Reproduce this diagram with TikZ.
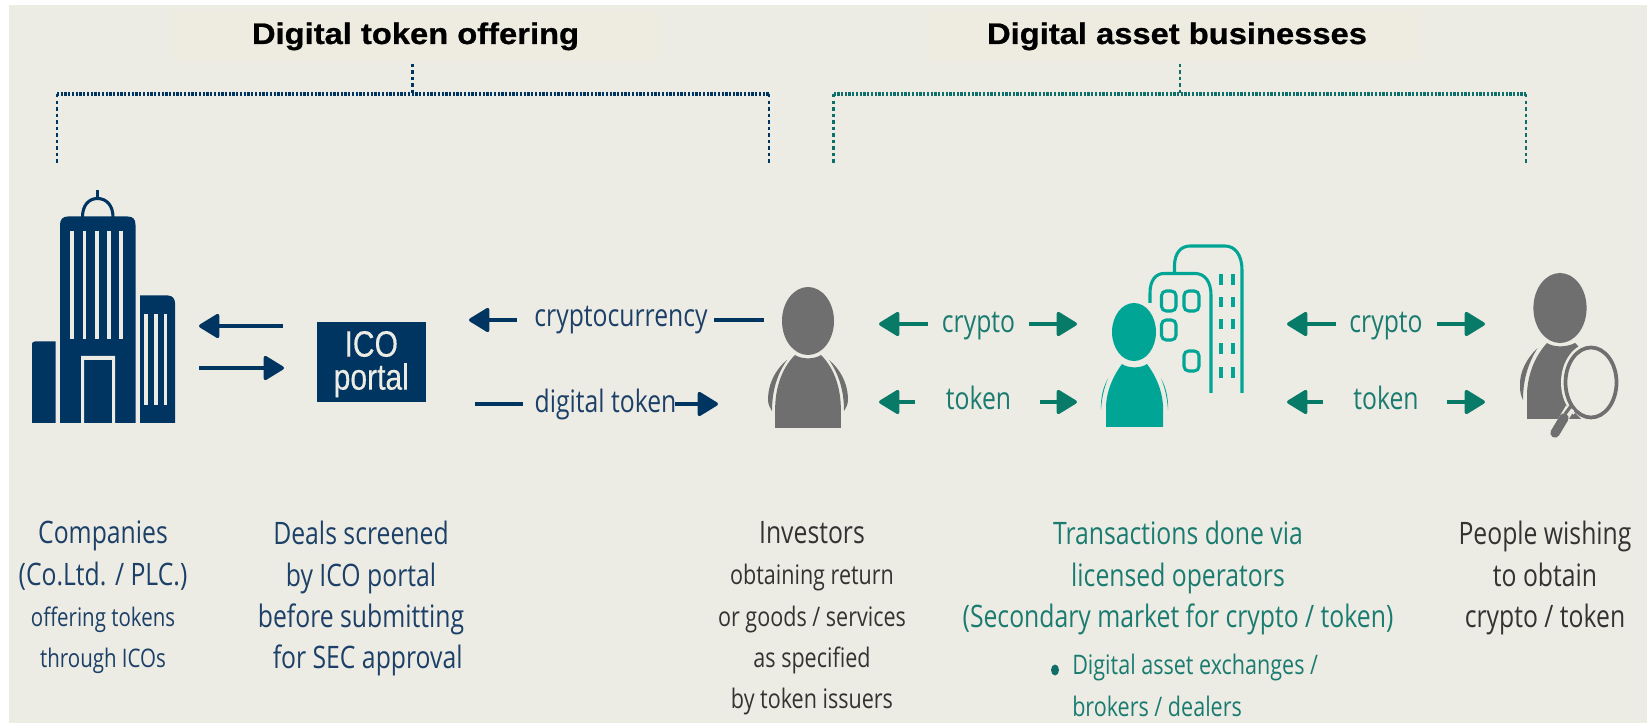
\documentclass[tikz,border=0pt]{standalone}
\usepackage{fontspec}
\usetikzlibrary{arrows.meta}
\setmainfont{Open Sans}[FakeStretch=0.8]
\newfontfamily\titlefont{Liberation Sans Bold}[FakeStretch=1.1,FakeBold=0.8]
\newfontfamily\icofont{Liberation Sans}[FakeStretch=0.82,FakeBold=0.3]
\definecolor{bg}{HTML}{EDECE4}
\definecolor{hdr}{HTML}{EEECE1}
\definecolor{navy}{HTML}{003461}
\definecolor{navytxt}{HTML}{1C4068}
\definecolor{tealdark}{HTML}{087A68}
\definecolor{tealtxt}{HTML}{1A7B70}
\definecolor{teal2}{HTML}{00A596}
\definecolor{teal3}{HTML}{0E6E6A}
\definecolor{greyfig}{HTML}{6F6F6F}
\definecolor{greytxt}{HTML}{333333}
\newcommand{\bigline}{\fontsize{23.2pt}{31pt}\selectfont}
\newcommand{\smallline}{\fontsize{20.2pt}{31pt}\selectfont}
\newcommand{\smallerline}{\fontsize{19.2pt}{31pt}\selectfont}
\tikzset{
  hdrbox/.style={fill=hdr,draw=none,inner sep=0pt,anchor=north west},
  title/.style={anchor=base,inner sep=0pt,text=black,font=\titlefont\fontsize{22.3pt}{24pt}\selectfont},
  arrowline/.style={line width=2.6pt,-{Triangle[length=16.5pt,width=19.5pt,round]}},
  plainline/.style={line width=2.6pt},
  navyarrow/.style={arrowline,draw=navy,fill=navy},
  greenarrow/.style={arrowline,draw=tealdark,fill=tealdark},
  lbl/.style={anchor=base,inner sep=0pt,font=\fontsize{23.2pt}{24pt}\selectfont},
  block/.style={anchor=north,inner sep=0pt,align=center,font=\bigline},
  icotext/.style={anchor=center,inner sep=0pt,align=center,text=bg,font=\icofont\fontsize{27.5pt}{24.75pt}\selectfont},
  dotted navy/.style={draw=navy,line width=2.4pt,dash pattern=on 1.7pt off 1.1pt},
  dotted navyv/.style={draw=navy,line width=2pt,dash pattern=on 2.6pt off 2.3pt},
  dotted teal/.style={draw=teal3,line width=2.4pt,dash pattern=on 1.7pt off 1.1pt},
  dotted tealv/.style={draw=teal3,line width=2pt,dash pattern=on 2.6pt off 2.3pt},
}
\begin{document}
\begin{tikzpicture}[x=0.75pt,y=-0.75pt]
\useasboundingbox (0,0) rectangle (1647,723);
\fill[white] (0,0) rectangle (1647,723);
\fill[bg] (9,5) rectangle (1647,723);

% headers
\node[hdrbox,minimum width=366pt,minimum height=37.5pt] (hdrA) at (172,10) {};
\node[hdrbox,minimum width=368pt,minimum height=37.5pt] (hdrB) at (929,10) {};
\node[title] (titleA) at (415.5,44) {Digital token offering};
\node[title] (titleB) at (1177,44) {Digital asset businesses};

% brackets
\coordinate (brAl) at (57,165); \coordinate (brAlt) at (57,94);
\coordinate (brAr) at (769,165); \coordinate (brArt) at (769,94);
\coordinate (brAm) at (412.5,94);
\draw[dotted navy] (brAlt) -- (brArt);
\draw[dotted navyv] (brAlt) -- (brAl);
\draw[dotted navyv] (brArt) -- (brAr);
\draw[dotted navyv,line width=1.6pt] (hdrA.south -| brAm) ++(0,3) -- (brAm);
\coordinate (brBl) at (833.5,165); \coordinate (brBlt) at (833.5,94);
\coordinate (brBr) at (1526,165); \coordinate (brBrt) at (1526,94);
\coordinate (brBm) at (1180,94);
\draw[dotted teal] (brBlt) -- (brBrt);
\draw[dotted tealv] (brBlt) -- (brBl);
\draw[dotted tealv] (brBrt) -- (brBr);
\draw[dotted tealv,line width=1pt] (hdrB.south -| brBm) ++(0,3) -- (brBm);

% company building
\fill[navy] (60,423) -- (60,225) .. controls (60,219) and (63,216.5) .. (68,216.5) -- (127.5,216.5) .. controls (133,216.5) and (135.5,219) .. (135.5,225) -- (135.5,423) -- cycle;
\foreach \xx in {72,84.5,97,109,121}{\fill[bg] (\xx-1.6,231) rectangle (\xx+1.6,339);}
\fill[bg] (81,423) -- (81,356) -- (115,356) -- (115,423) -- (112,423) -- (112,360) -- (84,360) -- (84,423) -- cycle;
\fill[navy] (32,423) -- (32,344) .. controls (32,342.5) and (33,341.5) .. (35,341.5) -- (55.5,341.5) -- (55.5,423) -- cycle;
\fill[navy] (140,423) -- (140,295.5) -- (168,295.5) .. controls (172.5,295.5) and (175,299) .. (175,303) -- (175,423) -- cycle;
\foreach \xx in {146,156,165.5}{\fill[bg] (\xx-1.6,314) rectangle (\xx+1.6,405.5);}
\draw[navy,line width=2.3pt] (82.5,217) .. controls (82.5,205) and (89,198.5) .. (97.5,198.5) .. controls (106,198.5) and (113,205) .. (113,217);
\draw[navy,line width=2.3pt] (97.5,190) -- (97.5,198);

% company - portal arrows
\coordinate (cA) at (283,326); \coordinate (cB) at (199,326);
\coordinate (cC) at (199,368); \coordinate (cD) at (284,368);
\draw[navyarrow] (cA) -- (cB);
\draw[navyarrow] (cC) -- (cD);

% ICO portal
\node[fill=navy,inner sep=0pt,minimum width=81.75pt,minimum height=60.25pt,anchor=north west] (portal) at (316.5,321.7) {};
\node[icotext] (ico) at ([yshift=-1.5pt]portal.center) {ICO\\portal};

% crypto / token navy
\coordinate (nA) at (517,320); \coordinate (nB) at (469,320);
\coordinate (nC) at (714,320); \coordinate (nD) at (764,320);
\coordinate (nE) at (474.5,404); \coordinate (nF) at (522.6,404);
\coordinate (nG) at (675,404); \coordinate (nH) at (718,404);
\draw[navyarrow] (nA) -- (nB);
\draw[plainline,navy] (nC) -- (nD);
\draw[plainline,navy] (nE) -- (nF);
\draw[navyarrow] (nG) -- (nH);
\node[lbl,text=navytxt] (lcc) at (621,327) {cryptocurrency};
\node[lbl,text=navytxt] (ldt) at (605.5,413) {digital token};

% investor
\begin{scope}[shift={(808,321)}]
\fill[greyfig] (0,0) ellipse [x radius=26,y radius=34];
\fill[greyfig] (-32.8,107) -- (-32.8,85) .. controls (-32,62) and (-24,45) .. (-13,34) .. controls (-6,38.5) and (6,38.5) .. (13,34) .. controls (24,45) and (32,62) .. (32.8,85) -- (32.8,107) -- cycle;
\fill[greyfig] (-21,39) .. controls (-32,48) and (-40,62) .. (-40,79) .. controls (-40,83) and (-38,87) .. (-36,90) .. controls (-36,68) and (-30,52) .. (-21,39) -- cycle;
\fill[greyfig] (21,39) .. controls (32,48) and (40,62) .. (40,79) .. controls (40,83) and (38,87) .. (36,90) .. controls (36,68) and (30,52) .. (21,39) -- cycle;
\end{scope}

% green arrows left
\coordinate (gA) at (927.5,324); \coordinate (gB) at (879,324);
\coordinate (gC) at (1029,324); \coordinate (gD) at (1077,324);
\coordinate (gE) at (915,402); \coordinate (gF) at (879,402);
\coordinate (gG) at (1040,402); \coordinate (gH) at (1077,402);
\draw[greenarrow] (gA) -- (gB);
\draw[greenarrow] (gC) -- (gD);
\draw[greenarrow] (gE) -- (gF);
\draw[greenarrow] (gG) -- (gH);
\node[lbl,text=tealtxt] (lc1) at (978.5,332.5) {crypto};
\node[lbl,text=tealtxt] (lt1) at (978.5,410) {token};

% licensed operators
\begin{scope}[teal2]
\draw[line width=2.3pt] (1174.5,272) -- (1174.5,266) .. controls (1174.5,253) and (1181,246) .. (1190,246) -- (1225,246) .. controls (1235,246) and (1242,255) .. (1242,270) -- (1242,393);
\draw[line width=2.3pt] (1150,303) -- (1150,293) .. controls (1150,280) and (1156,273.5) .. (1164,273.5) -- (1195,273.5) .. controls (1205,273.5) and (1211,282) .. (1211,295) -- (1211,393);
\foreach \xa/\ya/\xb/\yb in {1161.5/291/1176/311,1184/291/1199/311,1161.5/320/1176/340,1184/351/1199/371}
  {\draw[line width=2.3pt,rounded corners=3.5pt] (\xa,\ya) rectangle (\xb,\yb);}
\foreach \xx in {1221,1233}{\foreach \ya/\yb in {274/285,297/307,319/329,343/354,367/378}
  {\fill (\xx-1.7,\ya) rectangle (\xx+1.7,\yb);}}
\fill[bg] (1134,332) ellipse [x radius=25,y radius=32];
\fill (1134,332) ellipse [x radius=22,y radius=29];
\fill (1106,427) -- (1106,405) .. controls (1107,390) and (1113,376) .. (1122,364) .. controls (1128,368.5) and (1141,368.5) .. (1147,364) .. controls (1156,376) and (1162,390) .. (1163,405) -- (1163,427) -- cycle;
\fill (1108,378.5) .. controls (1103,387) and (1100.5,398) .. (1101,410) .. controls (1101.8,398) and (1104,388) .. (1108,378.5) -- cycle;
\fill (1161,378.5) .. controls (1166,387) and (1168.5,398) .. (1168,410) .. controls (1167.2,398) and (1165,388) .. (1161,378.5) -- cycle;
\end{scope}

% green arrows right
\coordinate (hA) at (1335.6,324); \coordinate (hB) at (1287,324);
\coordinate (hC) at (1436.5,324); \coordinate (hD) at (1485,324);
\coordinate (hE) at (1323,402); \coordinate (hF) at (1287,402);
\coordinate (hG) at (1447,402); \coordinate (hH) at (1485,402);
\draw[greenarrow] (hA) -- (hB);
\draw[greenarrow] (hC) -- (hD);
\draw[greenarrow] (hE) -- (hF);
\draw[greenarrow] (hG) -- (hH);
\node[lbl,text=tealtxt] (lc2) at (1386,332.5) {crypto};
\node[lbl,text=tealtxt] (lt2) at (1386,410) {token};

% person with magnifier
\begin{scope}[shift={(1560,308)}]
\fill[greyfig] (0,0) ellipse [x radius=26.6,y radius=35];
\fill[greyfig] (-33,111) -- (-33,85) .. controls (-32,64) and (-24,47) .. (-13,35) .. controls (-6,39.5) and (6,39.5) .. (15,35) .. controls (26,45) and (34,64) .. (34,85) -- (34,111) -- cycle;
\fill[greyfig] (-22.5,40) .. controls (-33,50) and (-41,64) .. (-40,79) .. controls (-40,84) and (-39,88) .. (-37,92) .. controls (-37,70) and (-31,54) .. (-22.5,40) -- cycle;
\end{scope}
\fill[bg] (1591,382.5) ellipse [x radius=30,y radius=39.5];
\draw[greyfig,line width=2.8pt] (1591,382.5) ellipse [x radius=25.5,y radius=35];
\draw[bg,line width=7pt] (1570,408) -- (1558,428);
\draw[greyfig,line width=2.4pt] (1571,406) -- (1565,414);
\draw[greyfig,line width=7pt,line cap=round] (1564,418) -- (1555,433);
\fill[greyfig] (1575,413) -- (1581,419) -- (1570,419) -- cycle;

% captions
\node[block,text=navytxt] (capA) at (103,521) {Companies\\(Co.Ltd. / PLC.)\\{\smallerline offering tokens\hspace*{6pt}}\\{\smallerline through ICOs}};
\node[block,text=navytxt] (capB) at (361,521) {Deals screened\\by ICO portal\\before submitting\\\hspace*{10pt}for SEC approval};
\node[block,text=greytxt] (capC) at (812,521) {Investors\\{\smallline obtaining return}\\{\smallline or goods / services}\\{\smallline as specified}\\{\smallline by token issuers}};
\node[block,text=tealtxt] (capD) at (1178,521) {Transactions done via\\licensed operators\\(Secondary market for crypto / token)};
\node[block,text=greytxt] (capE) at (1545,521) {People wishing\\to obtain\\crypto / token};
\node[anchor=north west,inner sep=0pt,align=left,text=tealtxt,font=\smallline] (capF) at (1072,654) {Digital asset exchanges /\\brokers / dealers};
\fill[teal3] (1055,670) ellipse [x radius=4,y radius=5.5];
\end{tikzpicture}
\end{document}
